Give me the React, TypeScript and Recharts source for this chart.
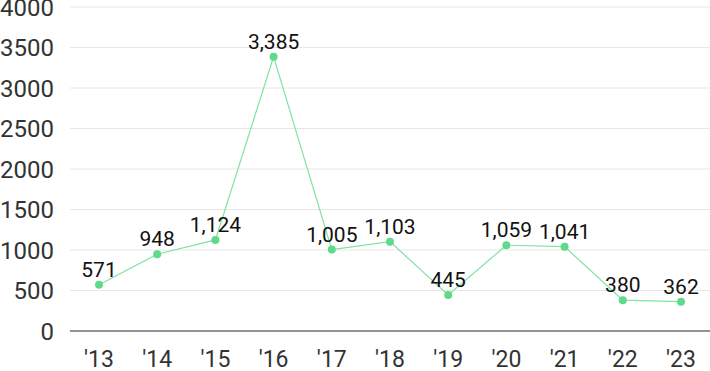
import React from "react";
import { LineChart, Line, XAxis, YAxis, CartesianGrid, LabelList } from "recharts";

const years = ["'13", "'14", "'15", "'16", "'17", "'18", "'19", "'20", "'21", "'22", "'23"];
const values = [571, 948, 1124, 3385, 1005, 1103, 445, 1059, 1041, 380, 362];
const yTicks = [0, 500, 1000, 1500, 2000, 2500, 3000, 3500, 4000];

const data = years.map((year, i) => ({ year, value: values[i] }));

const fmt = (v: number) => v.toLocaleString("en-US");

export default function App() {
  return (
    <div style={{ position: "absolute", left: 0, top: 0, fontFamily: "Roboto, sans-serif" }}>
      <LineChart width={710} height={371} data={data} margin={{ top: 7, right: 0, left: 0, bottom: 0 }}>
        <CartesianGrid vertical={false} stroke="#e6e6e6" />
        <XAxis
          dataKey="year"
          height={40}
          padding={{ left: 29, right: 29 }}
          stroke="#333"
          tickLine={false}
          tick={{ fill: "#333", fontSize: 23 }}
          tickMargin={14}
          interval={0}
        />
        <YAxis
          domain={[0, 4000]}
          ticks={yTicks}
          interval={0}
          width={70}
          axisLine={false}
          tickLine={false}
          tickSize={0}
          tickMargin={16}
          tick={{ fill: "#333", fontSize: 24 }}
        />
        <Line
          type="linear"
          dataKey="value"
          stroke="#7ee3a3"
          strokeWidth={1.2}
          dot={{ r: 4, fill: "#5fd98a", stroke: "#5fd98a", strokeWidth: 0 }}
          isAnimationActive={false}
        >
          <LabelList dataKey="value" position="top" offset={8} formatter={fmt} style={{ fill: "#111", fontSize: 21 }} />
        </Line>
      </LineChart>
    </div>
  );
}
